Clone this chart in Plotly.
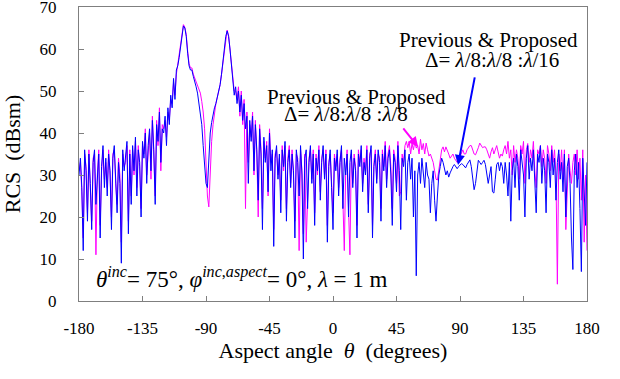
import plotly.graph_objects as go

angles = list(range(-180, 181))

blue_rcs = [
    30, 34, 27, 12, 36, 31, 19, 35, 28, 17,
    33, 36, 23, 31, 35, 15, 32, 37, 27, 34,
    25, 35, 31, 17, 34, 37, 29, 21, 33, 28,
    9, 36, 31, 34, 38, 16, 35, 23, 37, 31,
    39, 25, 36, 33, 20, 38, 34, 40, 28, 37,
    41, 31, 43, 36, 23, 42, 38, 45, 33, 41,
    40, 44, 37, 46, 42, 49, 46, 53, 48, 55,
    56, 58, 61, 64, 65.5, 65, 63, 59, 56, 55,
    55, 53.5, 52.5, 51, 49.5, 47, 44.5, 42, 37, 31,
    28, 27, 34, 40, 42.5, 44.5, 46, 47, 48.5, 50,
    51.5, 54, 57, 60, 63, 64.3, 63, 60, 56, 52,
    49, 51, 47, 50, 45, 49, 43, 47, 41, 44,
    28, 43, 38, 44, 31, 42, 36, 24, 41, 35,
    17, 39, 33, 37, 26, 40, 31, 36, 13, 34,
    37, 29, 35, 21, 36, 32, 38, 19, 33, 36,
    27, 35, 31, 15, 36, 33, 25, 37, 30, 10,
    34, 36, 22, 33, 37, 28, 35, 18, 34, 31,
    36, 24, 33, 37, 29, 35, 14, 32, 36, 27,
    17, 34, 31, 36, 25, 33, 37, 22, 34, 30,
    35, 20, 33, 36, 27, 34, 31, 15, 35, 32,
    37, 26, 33, 30, 36, 21, 34, 37, 15, 32,
    35, 28, 36, 33, 19, 35, 31, 37, 27, 34,
    36, 30, 18, 35, 33, 26, 37, 31, 17, 34,
    32, 36, 24, 33, 35, 29, 34, 20, 31, 6,
    30, 33, 28, 34, 31, 27, 33, 30, 29, 21,
    28, 31, 24, 19, 25, 30, 32, 34, 33, 31,
    30, 31, 29.5, 30.5, 31.5, 32, 32.5, 32, 31.5, 32,
    32.5, 32.7, 32.5, 32, 31.7, 32.5, 33.2, 33.6, 32, 29,
    26.5, 28, 31, 33.5, 33, 32.5, 33, 33.5, 32.5, 30,
    28, 30, 32, 26, 25.7, 29, 32.5, 33, 31, 33,
    32, 28, 33, 30, 25, 33, 19, 31, 34, 27,
    35, 32, 24, 36, 33, 30, 20, 34, 37, 29,
    34, 31, 36, 26, 21, 35, 33, 37, 28, 34,
    31, 21, 35, 33, 27, 36, 30, 34, 24, 33,
    36, 29, 33, 26, 35, 20, 32, 34, 28, 15,
    7.5, 31, 35, 27, 33, 22, 7, 34, 25, 18,
    33,
]

magenta_rcs = [
    31, 33, 26, 15, 35, 32, 21, 36, 27, 19,
    34, 35, 11, 30, 36, 18, 31, 36, 29, 33,
    27, 36, 30, 20, 35, 36, 28, 23, 34, 30,
    14, 35, 32, 33, 37, 19, 36, 25, 36, 30,
    38, 27, 37, 32, 22, 37, 35, 41, 30, 36,
    40, 29, 44, 35, 25, 43, 37, 46, 31, 42,
    41, 43, 39, 45, 43, 48, 47, 52, 49, 54,
    56.5, 58.5, 61.5, 64.5, 65.8, 65.2, 63.5, 59.5, 56.5, 55.5,
    55.5, 54, 53, 52, 51, 50.5, 49.5, 47.5, 45, 41,
    33, 25, 22.4, 31, 38, 42, 45, 47, 48.5, 50,
    51.5, 54, 57, 60, 63, 64.5, 63.2, 60, 56, 52,
    50, 50, 48, 51, 44, 50, 42, 48, 22, 45,
    33, 42, 39, 45, 30, 43, 35, 20, 42, 36,
    22, 38, 34, 38, 25, 41, 33, 35, 17, 35,
    36, 30, 34, 24, 37, 31, 37, 22, 34, 37,
    28, 36, 30, 19, 35, 34, 12, 36, 31, 16,
    35, 14, 24, 34, 36, 29, 36, 21, 35, 30,
    37, 26, 34, 36, 30, 36, 18, 33, 35, 28,
    21, 35, 32, 35, 27, 34, 36, 24, 12, 31,
    36, 22, 11, 35, 28, 35, 32, 18, 36, 33,
    36, 28, 34, 31, 37, 23, 35, 36, 18, 33,
    36, 29, 35, 34, 22, 36, 32, 38, 29, 35,
    37, 32, 22, 36, 34, 28, 38, 25, 26, 35,
    33, 37, 38, 36.5, 38, 35, 37.5, 36, 38, 36.4,
    37, 35, 38.5, 36, 37.5, 35, 37.6, 36, 34.5, 35,
    34, 33, 31, 29, 28.8, 31, 34, 36, 36.7, 35.5,
    36.7, 36, 35, 34, 34.5, 35, 34, 33.6, 33, 33.5,
    34.5, 35.5, 36, 35, 35, 36, 36.5, 37, 37, 36,
    35, 34.8, 35.5, 36.5, 37.6, 37, 36.5, 36.7, 36.7, 36,
    35, 34, 35.5, 36.5, 35, 36, 37, 35.5, 34, 35,
    34.5, 36, 37, 35, 38, 34, 36, 30, 37, 33,
    36, 34, 29, 37, 35, 38, 28, 36, 37.5, 33,
    36, 34, 38, 31, 27, 36, 35, 37, 32, 36,
    34, 28, 37, 35, 31, 37, 33, 36, 30, 4,
    35, 31, 36, 29, 36, 17, 25, 35, 31, 28,
    33, 35, 30, 36, 29, 34, 24, 36, 14, 30,
    12,
]

x_ticks = [-180, -135, -90, -45, 0, 45, 90, 135, 180]
x_tick_text = ["-180", "-135", "-90", "-45", "0", "45", "90", "135", "180"]
y_ticks = [0, 10, 20, 30, 40, 50, 60, 70]

SERIF = "Liberation Serif, Times New Roman, serif"

fig = go.Figure()
fig.add_trace(go.Scatter(x=angles, y=magenta_rcs, mode="lines",
                         line=dict(color="#FF00FF", width=1), showlegend=False))
fig.add_trace(go.Scatter(x=angles, y=blue_rcs, mode="lines",
                         line=dict(color="#0000FF", width=1), showlegend=False))

axis_common = dict(showgrid=False, zeroline=False, showline=True, linecolor="#7f7f7f",
                   linewidth=1, mirror=True, ticks="inside", ticklen=5, tickcolor="#7f7f7f",
                   automargin=False, ticklabeloverflow="allow",
                   tickfont=dict(family=SERIF, size=17, color="black"))

fig.update_xaxes(range=[-180, 180], tickvals=x_ticks, ticktext=x_tick_text, ticklabelstandoff=12,
                 title=dict(text="Aspect angle  <i>θ</i>  (degrees)",
                            font=dict(family=SERIF, size=22, color="black"), standoff=2),
                 **axis_common)
fig.update_yaxes(range=[0, 70], tickvals=y_ticks, ticklabelstandoff=18,
                 title=dict(text="RCS  (dBsm)",
                            font=dict(family=SERIF, size=22, color="black"), standoff=20),
                 **axis_common)

fig.add_annotation(x=0.03, y=0.08, xref="paper", yref="paper", xanchor="left", yanchor="middle",
                   showarrow=False,
                   text="<i>θ</i><sup><i>inc</i></sup>= 75°, <i>φ</i><sup><i>inc</i>,<i>aspect</i></sup>= 0°, <i>λ</i> = 1 m",
                   font=dict(family=SERIF, size=23, color="black"))

fig.add_annotation(x=17, y=48.6, xref="x", yref="y", showarrow=False,
                   text="Previous & Proposed", font=dict(family=SERIF, size=21, color="black"))
fig.add_annotation(x=9, y=44.6, xref="x", yref="y", showarrow=False,
                   text="Δ= <i>λ</i>/8:<i>λ</i>/8 :<i>λ</i>/8", font=dict(family=SERIF, size=21, color="black"))

fig.add_annotation(x=110, y=62.1, xref="x", yref="y", showarrow=False,
                   text="Previous & Proposed", font=dict(family=SERIF, size=21, color="black"))
fig.add_annotation(x=113, y=57.3, xref="x", yref="y", showarrow=False,
                   text="Δ= <i>λ</i>/8:<i>λ</i>/8 :<i>λ</i>/16", font=dict(family=SERIF, size=21, color="black"))

fig.add_annotation(x=60.3, y=36.7, xref="x", yref="y", text="", showarrow=True,
                   ax=-16, ay=-20, arrowhead=2, arrowsize=1, arrowwidth=2, arrowcolor="#FF00FF")
fig.add_annotation(x=88.6, y=32.4, xref="x", yref="y", text="", showarrow=True,
                   ax=17, ay=-89, arrowhead=2, arrowsize=1, arrowwidth=2, arrowcolor="#0000FF")

fig.update_layout(width=620, height=379, margin=dict(l=79, r=33, t=7, b=78),
                  paper_bgcolor="white", plot_bgcolor="white")

# remove the browser's default 8px body margin so the figure sits at the page origin
fig.write_html("out.html", config={"displayModeBar": False},
               post_script="document.body.style.margin='0px';")
